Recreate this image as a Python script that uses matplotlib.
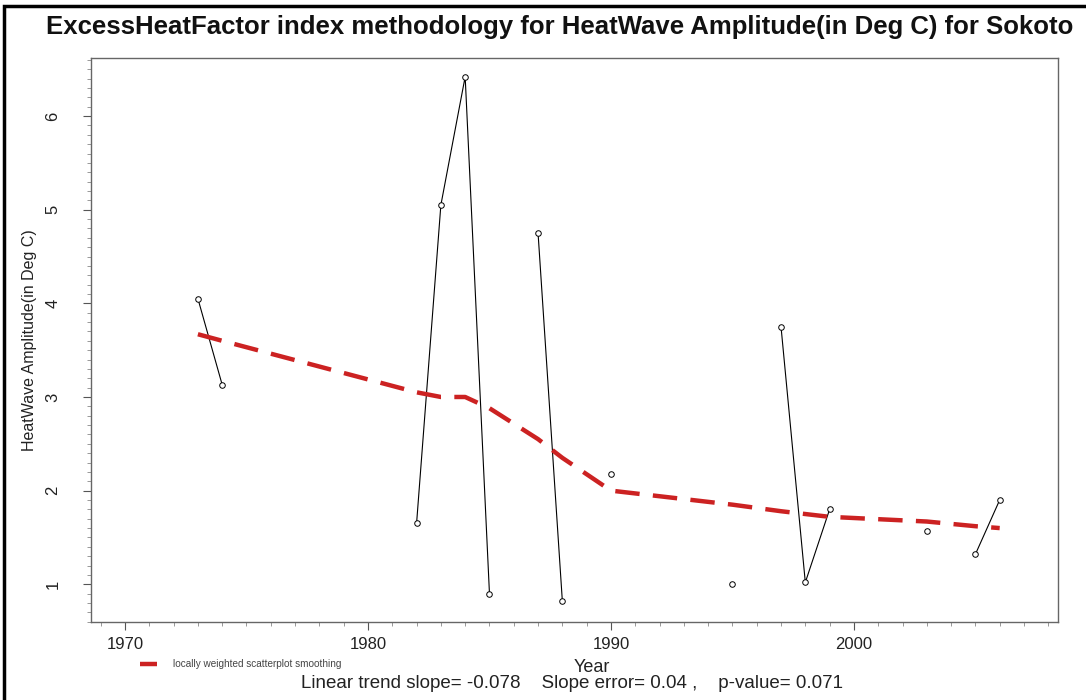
import numpy as np
import matplotlib.pyplot as plt
from matplotlib.patches import Rectangle
from matplotlib.ticker import MultipleLocator

# Heat wave amplitude per year (NaN = no heat wave that year)
years = list(range(1973, 2007))
amplitude_by_year = {
    1973: 4.05, 1974: 3.13,
    1982: 1.65, 1983: 5.05, 1984: 6.42, 1985: 0.90,
    1987: 4.75, 1988: 0.82,
    1990: 2.18,
    1995: 1.00,
    1997: 3.75, 1998: 1.02, 1999: 1.80,
    2003: 1.57,
    2005: 1.32, 2006: 1.90,
}
amplitude = [amplitude_by_year.get(y, np.nan) for y in years]

# lowess fit evaluated at the observed years
lowess_years = [1973, 1974, 1982, 1983, 1984, 1985, 1987, 1988, 1990,
                1995, 1997, 1998, 1999, 2003, 2005, 2006]
lowess_vals = [3.67, 3.60, 3.05, 3.00, 3.00, 2.88, 2.55, 2.35, 2.00,
               1.85, 1.78, 1.75, 1.72, 1.67, 1.62, 1.60]

x_ticks = [1970, 1980, 1990, 2000]
y_ticks = [1, 2, 3, 4, 5, 6]

title = "ExcessHeatFactor index methodology for HeatWave Amplitude(in Deg C) for Sokoto"
trend_text = "Linear trend slope= -0.078    Slope error= 0.04 ,    p-value= 0.071"

plt.rcParams["font.family"] = ["Liberation Sans", "DejaVu Sans"]

fig = plt.figure(figsize=(10.86, 7.0), dpi=100)
fig.patches.append(Rectangle((4 / 1086, -0.01), 1.02, 1 - 6 / 700 + 0.01,
                             transform=fig.transFigure, fill=False,
                             edgecolor="black", linewidth=2.5))

ax = fig.add_axes([91 / 1086, 78 / 700, 967 / 1086, 564 / 700])
ax.plot(years, amplitude, color="black", linewidth=0.8,
        marker="o", markersize=4, markerfacecolor="white",
        markeredgecolor="black", markeredgewidth=0.7)
ax.plot(lowess_years, lowess_vals, color="#cc2222", linewidth=3.2,
        dashes=(5.5, 3), label="locally weighted scatterplot smoothing")

ax.set_xlim(1968.6, 2008.4)
ax.set_ylim(0.597, 6.62)
ax.set_xticks(x_ticks)
ax.xaxis.set_minor_locator(MultipleLocator(1))
ax.set_yticks(y_ticks)
ax.yaxis.set_minor_locator(MultipleLocator(0.1))
ax.tick_params(axis="both", which="major", length=6, color="#555555",
               labelsize=12, labelcolor="#222222")
ax.tick_params(axis="x", which="major", pad=5)
ax.tick_params(axis="y", which="major", pad=16, labelrotation=90)
ax.tick_params(axis="both", which="minor", length=3, color="#888888")
for lab in ax.get_yticklabels():
    lab.set_verticalalignment("center")
for side in ["left", "bottom", "right", "top"]:
    ax.spines[side].set_color("#666666")
    ax.spines[side].set_linewidth(1.0)

ax.set_ylabel("HeatWave Amplitude(in Deg C)", fontsize=11.5, color="#222222",
              labelpad=6)

fig.text(560 / 1086, 1 - 27 / 700, title, ha="center", va="center",
         fontsize=18.5, fontweight="bold", color="#111111")
fig.text(592 / 1086, 1 - 667 / 700, "Year", ha="center", va="center",
         fontsize=13, color="#222222")
fig.text(572 / 1086, 1 - 684 / 700, trend_text, ha="center", va="center",
         fontsize=13.5, color="#222222")

ax.legend(loc="center left", bbox_to_anchor=(140 / 1086, 1 - 664 / 700),
          bbox_transform=fig.transFigure, frameon=False, fontsize=7.2,
          handlelength=1.7, handletextpad=1.6, labelcolor="#444444",
          borderpad=0, borderaxespad=0)

fig.savefig("out.png", dpi=100)
